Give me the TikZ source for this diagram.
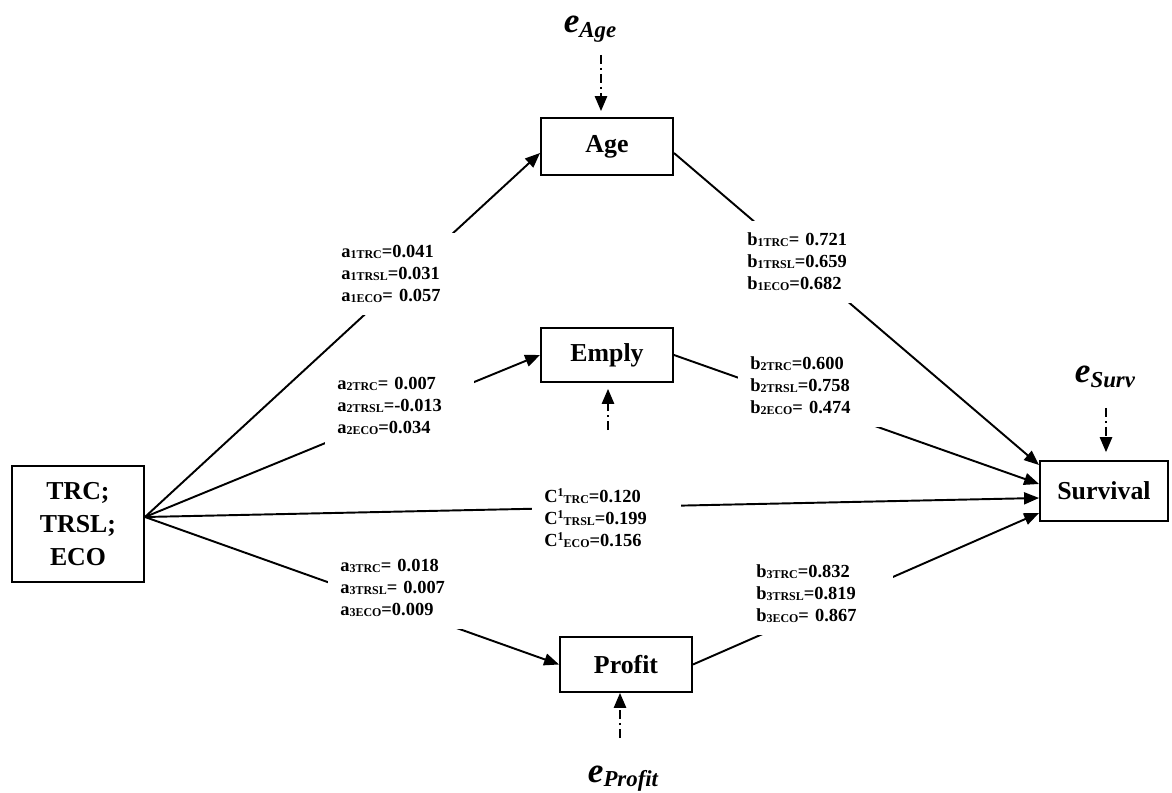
\documentclass[tikz,border=0pt]{standalone}
\usepackage{fontspec}
\setmainfont{Liberation Serif}
\usetikzlibrary{arrows.meta}
\newcommand{\sbs}[1]{\raisebox{-0.5pt}{\fontsize{6.8}{8}\selectfont #1}}
\newcommand{\sps}[1]{\raisebox{3.6pt}{\fontsize{6.8}{8}\selectfont #1}}
\newcommand{\errlab}[1]{{\fontsize{20}{22}\selectfont e}\raisebox{-2.3pt}{\fontsize{13}{14}\selectfont #1}}

\begin{document}
\begin{tikzpicture}[x=2cm,y=2cm,
    varbox/.style={draw,line width=1.1pt,align=center,minimum width=2.64cm,
      font=\fontsize{14.7}{18.7}\selectfont\bfseries},
    coef/.style={anchor=west,fill=white,text width=2.5cm,align=left,
      inner xsep=0.24cm,inner ysep=0.24cm,font=\fontsize{10.5}{12.5}\selectfont\bfseries},
    effect/.style={line width=1.1pt,-{Triangle[length=8.5pt,width=6.8pt]}},
    errarrow/.style={line width=1pt,dash pattern=on 5pt off 2.4pt on 1pt off 2.4pt,
      -{Triangle[length=8.5pt,width=7pt]}},
    elab/.style={anchor=base,inner sep=0pt,font=\bfseries\itshape}]
  \useasboundingbox (0,0) rectangle (11.72,7.92);

  \path
  (0.78,2.68) node[varbox,minimum height=2.32cm](trc) {TRC;\\TRSL;\\ECO}
  (6.07,6.455) node[varbox,minimum height=1.14cm](age) {Age}
  (6.07,4.37) node[varbox,minimum height=1.08cm](emply) {Emply}
  (6.26,1.275) node[varbox,minimum height=1.1cm](profit) {Profit}
  (11.04,3.01) node[varbox,minimum width=2.56cm,minimum height=1.2cm](surv) {Survival}
  ;

  \draw[effect] ([yshift=1.4mm]trc.east) -- ([yshift=-1.3mm]age.west);
  \draw[effect] ([yshift=1.4mm]trc.east) -- (emply.west);
  \draw[effect] ([yshift=1.4mm]trc.east) -- ([yshift=-1.4mm]surv.west);
  \draw[effect] ([yshift=1.4mm]trc.east) -- (profit.west);

  \draw[effect] ([yshift=-1.3mm]age.east) -- ([yshift=5.2mm]surv.west);
  \draw[effect] (emply.east) -- ([yshift=1.4mm]surv.west);
  \draw[effect] (profit.east) -- ([yshift=-4.4mm]surv.west);

  \path
  (3.29,5.18) node[coef](a1) {a\sbs{1TRC}=0.041\\a\sbs{1TRSL}=0.031\\a\sbs{1ECO}= 0.057}
  (3.25,3.86) node[coef](a2) {a\sbs{2TRC}= 0.007\\a\sbs{2TRSL}=-0.013\\a\sbs{2ECO}=0.034}
  (3.28,2.04) node[coef](a3) {a\sbs{3TRC}= 0.018\\a\sbs{3TRSL}= 0.007\\a\sbs{3ECO}=0.009}
  (5.32,2.74) node[coef](c1) {C\sps{1}\sbs{TRC}=0.120\\C\sps{1}\sbs{TRSL}=0.199\\C\sps{1}\sbs{ECO}=0.156}
  (7.35,5.30) node[coef](b1) {b\sbs{1TRC}= 0.721\\b\sbs{1TRSL}=0.659\\b\sbs{1ECO}=0.682}
  (7.38,4.06) node[coef](b2) {b\sbs{2TRC}=0.600\\b\sbs{2TRSL}=0.758\\b\sbs{2ECO}= 0.474}
  (7.44,1.98) node[coef](b3) {b\sbs{3TRC}=0.832\\b\sbs{3TRSL}=0.819\\b\sbs{3ECO}= 0.867}
  ;

  \path
  (5.90,7.59) node[elab](eage) {\errlab{Age}}
  (6.23,0.10) node[elab](eprofit) {\errlab{Profit}}
  (11.05,4.09) node[elab](esurv) {\errlab{Surv}}
  ;
  \coordinate (agetail) at (6.01,7.37);
  \coordinate (emplytail) at (6.08,3.62);
  \coordinate (profittail) at (6.20,0.54);
  \coordinate (survtail) at (11.06,3.84);

  \draw[errarrow,shorten >=3.4pt] (agetail) -- (agetail |- age.north);
  \draw[errarrow,shorten >=3.4pt] (emplytail) -- (emplytail |- emply.south);
  \draw[errarrow] (profittail) -- (profittail |- profit.south);
  \draw[errarrow,shorten >=4.5pt] (survtail) -- (survtail |- surv.north);
\end{tikzpicture}
\end{document}
